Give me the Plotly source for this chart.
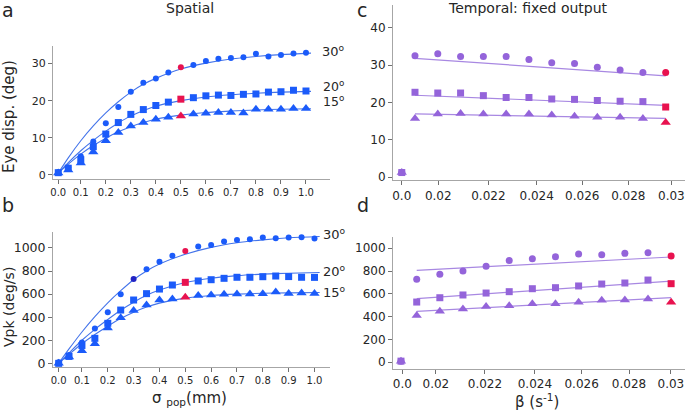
import plotly.graph_objects as go

# ---------------- data ----------------
sigma = [0.01, 0.05, 0.10, 0.15, 0.20, 0.25, 0.30, 0.35, 0.40, 0.45, 0.50,
         0.55, 0.60, 0.65, 0.70, 0.75, 0.80, 0.85, 0.90, 0.95, 1.00]
eye_30 = [0.7, 2.0, 5.0, 9.0, 13.9, 18.3, 22.4, 24.8, 26.0, 27.6, 29.0,
          29.6, 30.7, 31.3, 31.5, 31.7, 32.6, 31.9, 32.3, 32.7, 32.9]
eye_20 = [0.6, 1.8, 4.1, 7.6, 11.0, 14.1, 16.3, 17.6, 18.7, 19.6, 20.4,
          20.8, 21.3, 21.5, 21.4, 21.7, 21.8, 22.3, 22.4, 22.8, 22.6]
eye_15 = [0.5, 1.3, 3.2, 6.2, 9.2, 11.4, 13.2, 14.1, 15.0, 15.5, 15.9,
          16.4, 16.6, 16.8, 16.8, 16.7, 17.7, 17.7, 17.7, 17.9, 17.9]
vpk_30 = [10, 72, 180, 303, 442, 598, 731, 815, 881, 933, 974,
          1012, 1026, 1055, 1069, 1075, 1090, 1084, 1090, 1092, 1081]
vpk_20 = [0, 60, 155, 217, 347, 462, 549, 604, 644, 679, 702,
          714, 725, 737, 746, 746, 751, 757, 752, 746, 745]
vpk_15 = [0, 55, 110, 170, 306, 396, 457, 506, 549, 558, 572,
          587, 592, 598, 601, 601, 604, 618, 605, 610, 605]

fit_sigma = [0.01, 0.05, 0.10, 0.15, 0.20, 0.25, 0.30, 0.35, 0.40, 0.50, 0.60, 0.70, 0.80, 0.90, 1.02]
fit_eye_30 = [0.5, 4.6, 9.2, 13.2, 16.7, 19.7, 22.3, 24.4, 26.0, 28.5, 30.1, 31.2, 31.9, 32.4, 32.8]
fit_eye_20 = [0.5, 3.3, 6.5, 9.3, 11.8, 14.0, 15.9, 17.3, 18.5, 20.0, 21.0, 21.6, 22.0, 22.3, 22.5]
fit_eye_15 = [0.5, 2.9, 5.6, 7.9, 9.9, 11.6, 13.0, 14.1, 15.0, 16.1, 16.8, 17.2, 17.5, 17.7, 17.8]
fit_vpk_30 = [0, 125, 272, 405, 525, 630, 725, 800, 860, 945, 1005, 1045, 1070, 1088, 1100]
fit_vpk_20 = [0, 90, 200, 295, 380, 460, 530, 590, 635, 700, 738, 760, 773, 781, 787]
fit_vpk_15 = [0, 78, 170, 250, 322, 388, 443, 488, 522, 565, 588, 600, 607, 611, 614]

beta = [0.019, 0.020, 0.021, 0.022, 0.023, 0.024, 0.025, 0.026, 0.027, 0.028, 0.029, 0.030]
t_eye_30 = [32.5, 33.0, 32.3, 32.3, 32.3, 31.5, 30.6, 30.4, 29.4, 28.7, 28.0, 28.0]
t_eye_20 = [22.7, 22.5, 22.5, 21.8, 21.3, 21.3, 20.9, 20.8, 20.5, 20.3, 20.2, 18.75]
t_eye_15 = [15.7, 16.9, 17.0, 16.9, 16.9, 16.9, 16.6, 16.3, 16.0, 16.0, 15.7, 14.6]
t_vpk_30 = [727, 771, 800, 841, 893, 908, 925, 949, 943, 955, 961, 931]
t_vpk_20 = [528, 566, 590, 607, 619, 645, 654, 669, 686, 695, 721, 689]
t_vpk_15 = [409, 447, 467, 488, 496, 514, 514, 526, 543, 546, 555, 526]
# zero-beta point (drawn at the broken-axis "0.0" position)
zero_eye = 1.2
zero_vpk = 10
# linear fits (start, end) over the beta range
tfit_eye_30 = [31.8, 27.1]
tfit_eye_20 = [21.9, 19.2]
tfit_eye_15 = [16.9, 15.7]
tfit_vpk_30 = [806, 923]
tfit_vpk_20 = [558, 712]
tfit_vpk_15 = [447, 566]

sigma_ticks = [0.01, 0.1, 0.2, 0.3, 0.4, 0.5, 0.6, 0.7, 0.8, 0.9, 1.0]
sigma_ticktext = ["0.0", "0.1", "0.2", "0.3", "0.4", "0.5", "0.6", "0.7", "0.8", "0.9", "1.0"]
beta_ticktext = ["0.0", "0.02", "0.022", "0.024", "0.026", "0.028", "0.03"]
beta_ticks_c = [0.01842, 0.02002, 0.02222, 0.02434, 0.02634, 0.02836, 0.03025]
beta_ticks_d = [0.01838, 0.01983, 0.02195, 0.02411, 0.02613, 0.02818, 0.02999]
beta_zero_c = 0.01842
beta_zero_d = 0.01832

# ---------------- style ----------------
BLUE = "#1b5bfa"
BLUE_LINE = "#4474ea"
RED = "#e8124f"
DARK = "#2224c4"
PURPLE = "#9464da"
PURPLE_LINE = "#a888e2"
FONT = "DejaVu Sans"

fig = go.Figure()

def colors(n, red_idx, base, extra=None):
    c = [base] * n
    c[red_idx] = RED
    if extra:
        for i, col in extra.items():
            c[i] = col
    return c

red_s = sigma.index(0.50)

def spatial(xa, ya, y30, y20, y15, f30, f20, f15, extra30=None):
    for fy in (f30, f20, f15):
        fig.add_trace(go.Scatter(x=fit_sigma, y=fy, mode="lines",
                                 line=dict(color=BLUE_LINE, width=1.1, shape="spline", smoothing=0.8),
                                 xaxis=xa, yaxis=ya, showlegend=False, hoverinfo="skip"))
    fig.add_trace(go.Scatter(x=sigma, y=y15, mode="markers", xaxis=xa, yaxis=ya, showlegend=False, cliponaxis=False,
                             marker=dict(symbol="triangle-up", size=9, color=colors(len(sigma), red_s, BLUE))))
    fig.add_trace(go.Scatter(x=sigma, y=y20, mode="markers", xaxis=xa, yaxis=ya, showlegend=False, cliponaxis=False,
                             marker=dict(symbol="square", size=7, color=colors(len(sigma), red_s, BLUE))))
    fig.add_trace(go.Scatter(x=sigma, y=y30, mode="markers", xaxis=xa, yaxis=ya, showlegend=False, cliponaxis=False,
                             marker=dict(symbol="circle", size=6, color=colors(len(sigma), red_s, BLUE, extra30))))

spatial("x", "y", eye_30, eye_20, eye_15, fit_eye_30, fit_eye_20, fit_eye_15)
spatial("x2", "y2", vpk_30, vpk_20, vpk_15, fit_vpk_30, fit_vpk_20, fit_vpk_15, {sigma.index(0.30): DARK})

def temporal(xa, ya, y30, y20, y15, f30, f20, f15, zero_y, zero_x):
    bx = [beta[0], beta[-1]]
    for fy in (f30, f20, f15):
        fig.add_trace(go.Scatter(x=bx, y=fy, mode="lines", line=dict(color=PURPLE_LINE, width=1.2),
                                 xaxis=xa, yaxis=ya, showlegend=False, hoverinfo="skip"))
    n = len(beta)
    for yy, sym, sz in ((y30, "circle", 7), (y20, "square", 7), (y15, "triangle-up", 9)):
        fig.add_trace(go.Scatter(x=[zero_x] + beta, y=[zero_y] + yy, mode="markers", xaxis=xa, yaxis=ya,
                                 showlegend=False, cliponaxis=False,
                                 marker=dict(symbol=sym, size=sz, color=[PURPLE] + colors(n, n - 1, PURPLE))))

temporal("x3", "y3", t_eye_30, t_eye_20, t_eye_15, tfit_eye_30, tfit_eye_20, tfit_eye_15, zero_eye, beta_zero_c)
temporal("x4", "y4", t_vpk_30, t_vpk_20, t_vpk_15, tfit_vpk_30, tfit_vpk_20, tfit_vpk_15, zero_vpk, beta_zero_d)

W, H = 685, 410

def ax(domain, rng, tickvals=None, ticktext=None, size=11, anchor=None):
    d = dict(domain=domain, range=rng, showgrid=False, zeroline=False, showline=True, automargin=False,
             linecolor="#a6a6a6", linewidth=1, ticks="outside", ticklen=4, tickcolor="#707070",
             ticklabeloverflow="allow",
             tickfont=dict(family=FONT, size=size, color="#262626"), anchor=anchor, fixedrange=True)
    if tickvals is not None:
        d["tickmode"] = "array"
        d["tickvals"] = tickvals
        if ticktext is not None:
            d["ticktext"] = ticktext
    return d

fig.update_layout(
    width=W, height=H, margin=dict(l=0, r=0, t=0, b=0, autoexpand=False),
    paper_bgcolor="white", plot_bgcolor="white", showlegend=False,
    font=dict(family=FONT, color="#262626"),
    xaxis=ax([53 / W, 330 / W], [-0.011, 1.096], sigma_ticks, sigma_ticktext, 10, "y"),
    yaxis=ax([1 - 179 / H, 1 - 45.7 / H], [-1.1, 34.8], [0, 10, 20, 30], None, 11, "x"),
    xaxis2=ax([53 / W, 330 / W], [-0.012, 1.06], sigma_ticks, sigma_ticktext, 10, "y2"),
    yaxis2=ax([1 - 366.7 / H, 1 - 231.7 / H], [-29, 1141], [0, 200, 400, 600, 800, 1000], None, 12.5, "x2"),
    xaxis3=ax([393 / W, 1.0], [0.018035, 0.030847], beta_ticks_c, beta_ticktext, 12, "y3"),
    yaxis3=ax([1 - 180.3 / H, 1 - 5 / H], [-0.88, 46.08], [0, 10, 20, 30, 40], None, 12, "x3"),
    xaxis4=ax([393 / W, 1.0], [0.017975, 0.0306], beta_ticks_d, beta_ticktext, 12, "y4"),
    yaxis4=ax([1 - 369 / H, 1 - 236.7 / H], [-59, 1101], [0, 200, 400, 600, 800, 1000], None, 12, "x4"),
)

def note(text, x, y, size=14, xanchor="center", angle=0):
    fig.add_annotation(text=text, x=x / W, y=1 - y / H, xref="paper", yref="paper", showarrow=False,
                       xanchor=xanchor, yanchor="middle", textangle=angle,
                       font=dict(family=FONT, size=size, color="#262626"))

note("a", 8, 10, 19)
note("b", 8, 205, 19)
note("c", 362, 10, 19)
note("d", 363, 205, 19)
note("Spatial", 190, 8, 14)
note("Temporal: fixed output", 528, 8, 14)
note("Eye disp. (deg)", 9, 117, 15, angle=-90)
note("Vpk (deg/s)", 9, 307, 14, angle=-90)
note("σ <sub>pop</sub>(mm)", 189, 398, 15)
note("β (s<sup>-1</sup>)", 537, 401, 15)
note("30<sup>o</sup>", 320, 51, 13, "left")
note("20<sup>o</sup>", 321, 86, 12.5, "left")
note("15<sup>o</sup>", 321, 101, 12.5, "left")
note("30<sup>o</sup>", 321, 234, 13, "left")
note("20<sup>o</sup>", 321, 271, 13, "left")
note("15<sup>o</sup>", 321, 292, 13, "left")

fig.write_html("out.html", config={"displayModeBar": False})

# remove the browser's default body margin so the 685x410 figure fills the window exactly
with open("out.html", "r", encoding="utf-8") as f:
    html = f.read()
html = html.replace("<body>", '<body style="margin:0;padding:0;overflow:hidden">', 1)
with open("out.html", "w", encoding="utf-8") as f:
    f.write(html)
